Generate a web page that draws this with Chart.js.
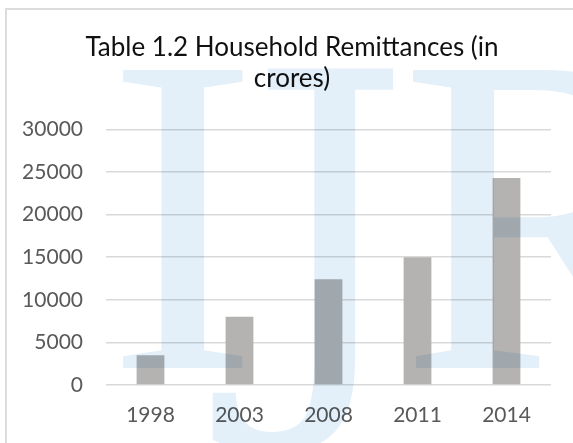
<!DOCTYPE html>
<html>
<head>
<meta charset="utf-8">
<script src="https://cdn.jsdelivr.net/npm/chart.js@4.4.1/dist/chart.umd.min.js"></script>
<style>
  html, body { margin: 0; padding: 0; overflow: hidden; background: #ffffff; width: 573px; height: 443px; }
  #wrap { position: absolute; left: 0; top: 0; width: 584px; height: 443px; }
  .bt { position: absolute; left: 5px; top: 8px; width: 568px; height: 2px; background: #dcdcdc; }
  .bl { position: absolute; left: 5px; top: 8px; width: 2px; height: 435px; background: #dcdcdc; }
</style>
</head>
<body>
<div class="bt"></div>
<div class="bl"></div>
<div id="wrap"><canvas id="c"></canvas></div>
<script>
const categories = ['1998', '2003', '2008', '2011', '2014'];
const remittances = [3500, 8000, 12400, 15000, 24300];
const titleLines = ['Table 1.2 Household Remittances (in', 'crores)'];
const watermarkLetters = ['I', 'J', 'R'];

const watermark = {
  id: 'watermark',
  afterDraw(chart) {
    const ctx = chart.ctx;
    ctx.save();
    ctx.globalCompositeOperation = 'multiply';
    ctx.fillStyle = '#e3eff9';
    ctx.textBaseline = 'alphabetic';
    const base = 368;
    ctx.font = '455px "Liberation Serif"';
    let m = ctx.measureText(watermarkLetters[0]);
    let x = 185 - (m.actualBoundingBoxRight - m.actualBoundingBoxLeft) / 2;
    ctx.fillText(watermarkLetters[0], x, base);
    ctx.font = '411px "DejaVu Serif"';
    m = ctx.measureText(watermarkLetters[1]);
    x = 395 - m.actualBoundingBoxRight;
    ctx.fillText(watermarkLetters[1], x, base);
    ctx.font = '455px "Liberation Serif"';
    m = ctx.measureText(watermarkLetters[2]);
    x = 407 + m.actualBoundingBoxLeft;
    ctx.fillText(watermarkLetters[2], x, base);
    ctx.restore();
  }
};

new Chart(document.getElementById('c'), {
  type: 'bar',
  data: {
    labels: categories,
    datasets: [{
      data: remittances,
      backgroundColor: '#b5b3b1',
      borderWidth: 0,
      barPercentage: 0.312,
      categoryPercentage: 1.0
    }]
  },
  options: {
    responsive: true,
    maintainAspectRatio: false,
    animation: false,
    layout: { padding: { left: 0, right: 0, top: 0, bottom: 0 } },
    plugins: {
      legend: { display: false },
      tooltip: { enabled: false },
      title: {
        display: true,
        text: titleLines,
        color: '#111111',
        font: { family: 'Lato', size: 26, weight: 'normal', lineHeight: 1.2 },
        padding: { top: 32, bottom: 35 }
      }
    },
    scales: {
      x: {
        afterFit(scale) { scale.height = 58; },
        grid: { display: false, drawTicks: false },
        border: { display: false },
        ticks: { color: '#595959', font: { family: 'Lato', size: 21 }, padding: 18, maxRotation: 0 }
      },
      y: {
        min: 0, max: 30000,
        afterFit(scale) { scale.width = 106; },
        grid: { color: '#d9d9d9', lineWidth: 1.5, drawTicks: false },
        border: { display: false },
        ticks: {
          stepSize: 5000, color: '#595959', font: { family: 'Lato', size: 21 }, padding: 23,
          callback: (v) => String(v)
        }
      },
      yRight: {
        position: 'right',
        min: 0, max: 30000,
        afterFit(scale) { scale.width = 33; },
        grid: { display: false, drawTicks: false },
        border: { display: false },
        ticks: { display: false }
      }
    }
  },
  plugins: [watermark]
});
</script>
</body>
</html>
